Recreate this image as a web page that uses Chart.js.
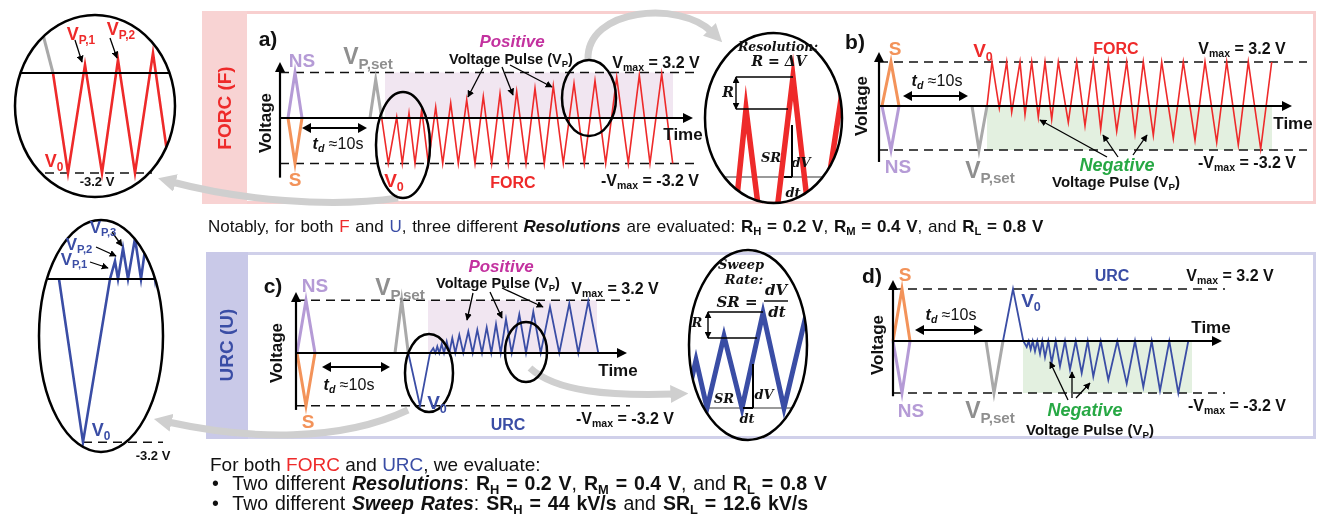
<!DOCTYPE html>
<html>
<head>
<meta charset="utf-8">
<script src="https://cdn.jsdelivr.net/npm/chart.js@4.4.0/dist/chart.umd.min.js"></script>
<style>
body { margin: 0; width: 1321px; height: 519px; position: relative; background: #fff; overflow: hidden; font-family: "Liberation Sans", Arial, sans-serif; }
.box { position: absolute; box-sizing: border-box; }
canvas { position: absolute; z-index: 1; }
svg { position: absolute; left: 0; top: 0; z-index: 2; }
.lb { position: absolute; z-index: 3; transform: translate(-50%, -50%); white-space: nowrap; font-weight: bold; line-height: 1; }
.lb sub, .txt sub { font-size: 0.66em; vertical-align: baseline; position: relative; top: 0.3em; }
.rot { transform: translate(-50%, -50%) rotate(-90deg); }
.m { font-family: "DejaVu Serif", "Liberation Serif", serif; font-style: italic; font-weight: bold; }
.txt { position: absolute; z-index: 3; white-space: nowrap; line-height: 1; color: #111; transform: translateY(-50%); }
</style>
</head>
<body>
<div class="box" style="left:202px;top:11px;width:1114px;height:193px;border:3px solid #f8cfcf;"></div>
<div class="box" style="left:202px;top:11px;width:45px;height:193px;background:#f8d3d3;"></div>
<div class="box" style="left:206px;top:252px;width:1110px;height:187px;border:3px solid #d0d0ea;"></div>
<div class="box" style="left:206px;top:252px;width:42px;height:187px;background:#c9c9e8;"></div>
<script>
// ---- data (time in arbitrary units, voltage in V) ----
const vMax = 3.2;
const upV = [0, 3.2, 0];
const downV = [0, -3.2, 0];

// a) FORC, positive pulses
const aPreT = [8, 15, 22];
const aSetT = [90, 95.7, 101.7];
const aSetV = [0, 2.7, 0];
const aForcT = [101.7, 108.3, 116.7, 122.3, 129, 135, 141.7, 148.3, 155.7, 162.7, 170.7, 178.3, 186.7, 195, 203.3, 211.7,
  220, 228.3, 236.7, 246, 255, 264.3, 273.3, 283.3, 294, 304.3, 315, 325.7, 336.7, 348.3, 359.3, 370, 381.7, 392.7];
const aForcV = [0, -3.2, 0.07, -3.2, 0.35, -3.2, 0.58, -3.2, 0.77, -3.2, 1.05, -3.2, 1.28, -3.2, 1.51, -3.2,
  1.7, -3.2, 1.86, -3.2, 2.09, -3.2, 2.26, -3.2, 2.44, -3.2, 2.63, -3.2, 2.86, -3.2, 3.0, -3.2, 3.1, -3.2];

// b) FORC, negative pulses
const bPreT = [3, 12, 20];
const bSetT = [93, 100, 108];
const bForcT = [108, 113, 120.3, 127.7, 132.7, 141, 146, 152.7, 159.3, 166, 172.7, 179.3, 189.3, 197.7, 206, 214.3,
  221.7, 229.3, 237.7, 247.7, 256, 264.3, 274.3, 282.7, 294.3, 304.3, 316, 326, 337.7, 347.7, 359.3, 369.3, 381.7, 392.7];
const bForcV = [0, 3.2, -0.16, 3.2, -0.44, 3.2, -0.63, 3.2, -0.81, 3.2, -0.97, 3.2, -1.2, 3.2, -1.44, 3.2,
  -1.67, 3.2, -1.83, 3.2, -2.0, 3.2, -2.13, 3.2, -2.36, 3.2, -2.48, 3.2, -2.64, 3.2, -2.83, 3.2, -3.13, 3.2];

// c) URC, positive pulses
const cPreT = [1, 10, 19];
const cSetT = [99, 105.7, 112.3];
const cUrcT = [112.3, 124, 134, 137.3, 139.3, 141.3, 143.3, 145.7, 148, 150.7, 153.3, 156.3, 159.3, 163.3, 167.3, 172.3, 176.7,
  181.3, 186, 190.7, 195.3, 200, 204.7, 210, 215.7, 223.3, 230, 237.3, 244.7, 254, 263.3, 273.3, 282.3, 292.3, 302.3];
const cUrcV = [0, -3.2, 0, 0.3, 0, 0.4, 0, 0.54, 0, 0.7, 0, 0.9, 0, 1.1, 0, 1.3, 0,
  1.4, 0, 1.55, 0, 1.75, 0, 2.05, 0, 2.35, 0, 2.5, 0, 2.8, 0, 3.0, 0, 3.15, 0];

// d) URC, negative pulses
const dPreT = [0, 9, 17];
const dSetT = [93, 101, 110];
const dUrcT = [110, 120, 130.3, 133.7, 135.7, 137.7, 139.7, 142, 144.3, 147, 149.3, 152, 155.3, 158.7, 162.7, 167, 172,
  177, 182.7, 188.7, 194.7, 200.3, 207.7, 215.3, 224.3, 233.7, 242, 250.3, 258.7, 267, 276.3, 285.3, 295.3];
const dUrcV = [0, 3.2, 0, -0.37, 0, -0.52, 0, -0.64, 0, -0.79, 0, -1.0, 0, -1.33, 0, -1.55, 0,
  -1.76, 0, -1.97, 0, -2.19, 0, -2.4, 0, -2.62, 0, -2.83, 0, -3.05, 0, -3.2, 0];

// zoomed details
const zoomSetT = [40, 53];
const zoomSetV = [1.6, 0];
const zoomForcT = [53, 68, 85, 102, 118, 135, 153, 170];
const zoomForcV = [0, -3.2, 0.26, -3.2, 0.42, -3.2, 0.64, -3.2];
const zoomUrcT = [59, 83, 110, 115, 118, 123, 128, 135, 141, 148, 155, 163];
const zoomUrcV = [0, -3.2, 0, 0.35, 0, 0.6, 0, 0.8, 0, 1.0, 0, 1.2];
const resT = [728, 746, 768, 793, 815, 850];
const resV = [-108, 68, -108, 100, -93, 137];
const sweepT = [685, 696, 707, 724, 742, 763, 784, 812];
const sweepV = [0, 48, 0, 72, 0, 95, 0, 118];

// ---- colours ----
const red = '#ee2a2a', blue = '#3a4da5', purple = '#b59bd6', orange = '#f3935a', gray = '#a9a9a9';
const magenta = '#c3329f', green = '#27a844';
const pinkShade = '#f1e6f1', greenShade = '#e3f0e0';

const pts = (T, V) => T.map((t, i) => ({ x: t, y: V[i] }));
const line = (data, color, w, more) => Object.assign({ data, borderColor: color, borderWidth: w, pointRadius: 0, fill: false, clip: false, order: 1 }, more || {});
const dashed = (t1, t2, v) => line([{ x: t1, y: v }, { x: t2, y: v }], '#111', 1.6, { borderDash: [9, 6], order: 2 });
const shade = (t1, t2, v, color) => ({ data: [{ x: t1, y: v }, { x: t2, y: v }], borderWidth: 0, pointRadius: 0, fill: 'origin', backgroundColor: color, clip: false, order: 9 });

function arrowHead(ctx, x1, y1, x2, y2, len, half) {
  const a = Math.atan2(y2 - y1, x2 - x1), c = Math.cos(a), s = Math.sin(a);
  ctx.beginPath();
  ctx.moveTo(x2, y2);
  ctx.lineTo(x2 - len * c + half * s, y2 - len * s - half * c);
  ctx.lineTo(x2 - len * c - half * s, y2 - len * s + half * c);
  ctx.closePath();
  ctx.fill();
}
function arrowLine(ctx, x1, y1, x2, y2, len, half, both) {
  const a = Math.atan2(y2 - y1, x2 - x1), c = Math.cos(a), s = Math.sin(a);
  ctx.beginPath();
  ctx.moveTo(both ? x1 + len * 0.7 * c : x1, both ? y1 + len * 0.7 * s : y1);
  ctx.lineTo(x2 - len * 0.7 * c, y2 - len * 0.7 * s);
  ctx.stroke();
  arrowHead(ctx, x1, y1, x2, y2, len, half);
  if (both) arrowHead(ctx, x2, y2, x1, y1, len, half);
}

// draws the Voltage / Time axes and the t_d arrow
const axesPlugin = {
  id: 'axes',
  afterDatasetsDraw(chart, args, o) {
    if (!o || o.tEnd === undefined) return;
    const X = v => chart.scales.x.getPixelForValue(v), Y = v => chart.scales.y.getPixelForValue(v);
    const ctx = chart.ctx;
    ctx.save();
    ctx.strokeStyle = '#000'; ctx.fillStyle = '#000'; ctx.lineWidth = 2.2;
    arrowLine(ctx, X(0), Y(o.yBot), X(0), Y(o.yTop), 10, 5);
    arrowLine(ctx, X(0), Y(0), X(o.tEnd), Y(0), 10, 5);
    ctx.lineWidth = 2;
    arrowLine(ctx, X(o.tdA), Y(o.tdV), X(o.tdB), Y(o.tdV), 9, 5, true);
    ctx.restore();
  }
};

// clips the zoomed waveforms to their circle
const clipPlugin = {
  id: 'ellClip',
  beforeDatasetDraw(chart, args, o) {
    if (!o || !o.rx || !chart.data.datasets[args.index].inEllipse) return;
    const ctx = chart.ctx;
    ctx.save();
    ctx.beginPath();
    ctx.ellipse(o.cx, o.cy, o.rx, o.ry, 0, 0, Math.PI * 2);
    ctx.clip();
  },
  afterDatasetDraw(chart, args, o) {
    if (!o || !o.rx || !chart.data.datasets[args.index].inEllipse) return;
    chart.ctx.restore();
  }
};

function makeChart(g, datasets, axes, ell) {
  const cv = document.createElement('canvas');
  cv.width = g.w; cv.height = g.h;
  cv.style.left = g.l + 'px'; cv.style.top = g.t + 'px';
  cv.style.width = g.w + 'px'; cv.style.height = g.h + 'px';
  document.body.appendChild(cv);
  const clip = ell ? { cx: ell[0] - g.l, cy: ell[1] - g.t, rx: ell[2], ry: ell[3] } : false;
  return new Chart(cv, {
    type: 'line',
    data: { datasets },
    options: {
      responsive: false,
      maintainAspectRatio: false,
      animation: false,
      events: [],
      layout: { padding: 0 },
      elements: { point: { radius: 0 }, line: { tension: 0, borderJoinStyle: 'miter' } },
      scales: {
        x: { type: 'linear', display: false, min: (g.l - g.ox) / g.kx, max: (g.l + g.w - g.ox) / g.kx },
        y: { type: 'linear', display: false, min: (g.oy - g.t - g.h) / g.ky, max: (g.oy - g.t) / g.ky }
      },
      plugins: { legend: { display: false }, tooltip: { enabled: false }, axes: axes || false, ellClip: clip }
    },
    plugins: [axesPlugin, clipPlugin]
  });
}

// a) FORC positive
makeChart({ l: 250, t: 20, w: 460, h: 180, ox: 280, oy: 118, kx: 1, ky: 14.2 }, [
  line(pts(aForcT, aForcV), red, 1.6),
  line(pts(aSetT, aSetV), gray, 3),
  line(pts(aPreT, upV), purple, 3),
  line(pts(aPreT, downV), orange, 3),
  dashed(0, 415, vMax), dashed(0, 415, -vMax),
  shade(105, 393, vMax, pinkShade)
], { yTop: 3.95, yBot: -4.2, tEnd: 413, tdA: 22, tdB: 87, tdV: -0.7 });

// b) FORC negative
makeChart({ l: 850, t: 30, w: 465, h: 150, ox: 879, oy: 106, kx: 1, ky: 13.75 }, [
  line(pts(bForcT, bForcV), red, 1.6),
  line(pts(bSetT, downV), gray, 3),
  line(pts(bPreT, upV), orange, 3),
  line(pts(bPreT, downV), purple, 3),
  dashed(0, 428, vMax), dashed(0, 428, -vMax),
  shade(108, 393, -vMax, greenShade)
], { yTop: 3.93, yBot: -4.07, tEnd: 413, tdA: 24, tdB: 89, tdV: 0.73 });

// c) URC positive
makeChart({ l: 265, t: 270, w: 400, h: 160, ox: 296, oy: 353, kx: 1, ky: 16.5 }, [
  line(pts(cUrcT, cUrcV), blue, 1.8),
  line(pts(cSetT, upV), gray, 3),
  line(pts(cPreT, upV), purple, 3),
  line(pts(cPreT, downV), orange, 3),
  dashed(0, 334, vMax), dashed(0, 334, -vMax),
  shade(132, 301, vMax, pinkShade)
], { yTop: 3.7, yBot: -3.45, tEnd: 331, tdA: 26, tdB: 94, tdV: -0.85 });

// d) URC negative
makeChart({ l: 870, t: 262, w: 400, h: 160, ox: 893, oy: 341, kx: 1, ky: 16.25 }, [
  line(pts(dUrcT, dUrcV), blue, 1.8),
  line(pts(dSetT, downV), gray, 3),
  line(pts(dPreT, upV), orange, 3),
  line(pts(dPreT, downV), purple, 3),
  dashed(0, 332, vMax), dashed(0, 332, -vMax),
  shade(130, 299, -vMax, greenShade)
], { yTop: 3.75, yBot: -3.4, tEnd: 329, tdA: 22, tdB: 90, tdV: 0.68 });

// zoom of the FORC start (left circle)
makeChart({ l: 10, t: 10, w: 190, h: 195, ox: 0, oy: 73, kx: 1, ky: 31.25 }, [
  line(pts(zoomForcT, zoomForcV), red, 2.6, { inEllipse: true }),
  line(pts(zoomSetT, zoomSetV), gray, 3, { inEllipse: true }),
  line([{ x: 0, y: 0 }, { x: 200, y: 0 }], '#000', 2.2, { inEllipse: true, order: 0 }),
  dashed(45, 152, -vMax)
], null, [95, 106, 80, 91]);

// zoom of the URC start (left ellipse)
makeChart({ l: 30, t: 210, w: 150, h: 250, ox: 0, oy: 279, kx: 1, ky: 51 }, [
  line(pts(zoomUrcT, zoomUrcV), blue, 2.6, { inEllipse: true }),
  line([{ x: 0, y: 0 }, { x: 200, y: 0 }], '#000', 2.2, { inEllipse: true, order: 0 }),
  dashed(83, 163, -vMax)
], null, [101, 336, 62, 116]);

// resolution detail
makeChart({ l: 700, t: 28, w: 150, h: 180, ox: 0, oy: 177, kx: 1, ky: 1 }, [
  line(pts(resT, resV), red, 5.5, { inEllipse: true }),
  line([{ x: 690, y: 0 }, { x: 860, y: 0 }], '#9a9a9a', 2, { inEllipse: true, order: 3 })
], null, [773.5, 118, 68.5, 85]);

// sweep rate detail
makeChart({ l: 684, t: 245, w: 130, h: 200, ox: 0, oy: 408, kx: 1, ky: 1 }, [
  line(pts(sweepT, sweepV), blue, 5, { inEllipse: true }),
  line([{ x: 680, y: 0 }, { x: 820, y: 0 }], '#9a9a9a', 2, { inEllipse: true, order: 3 })
], null, [748, 345, 59, 95]);

// ---- overlay: circles, arrows ----
const ellipses = [[95, 106, 80, 91], [101, 336, 62, 116], [773.5, 118, 68.5, 85], [748, 345, 59, 95],
  [403, 145, 27, 53], [589, 98, 27, 38], [429, 373, 24, 39], [526, 352, 21, 30]];
const pointers = [[483, 68, 468, 97], [502, 67, 513, 95], [510, 65, 552, 87],
  [1107, 157, 1040, 120], [1118, 157, 1103, 135], [1133, 155, 1147, 135],
  [473, 293, 467, 320], [490, 292, 502, 318], [502, 288, 543, 307],
  [1068, 400, 1050, 362], [1072, 398, 1072, 372], [1076, 398, 1090, 383],
  [75, 40, 82, 62], [110, 38, 117, 58],
  [90, 262, 108, 268], [96, 247, 116, 256], [112, 232, 122, 246]];
const arcs = ['M 588 60 C 586 8, 680 0, 712 32', 'M 398 198 C 330 208, 240 200, 172 182',
  'M 408 410 C 340 442, 250 440, 168 422', 'M 530 368 C 556 392, 610 396, 674 394'];
let s = '<svg width="1321" height="519" xmlns="http://www.w3.org/2000/svg"><defs>' +
  '<marker id="ba" viewBox="0 0 10 10" refX="9" refY="5" markerWidth="7" markerHeight="7" markerUnits="userSpaceOnUse" orient="auto-start-reverse"><path d="M0,0 L10,5 L0,10 z" fill="#000"/></marker>' +
  '<marker id="ga" viewBox="0 0 10 10" refX="2" refY="5" markerWidth="18" markerHeight="18" markerUnits="userSpaceOnUse" orient="auto"><path d="M0,0 L10,5 L0,10 z" fill="#cfcfcf"/></marker></defs>';
arcs.forEach(d => { s += `<path d="${d}" fill="none" stroke="#cfcfcf" stroke-width="7" marker-end="url(#ga)"/>`; });
ellipses.forEach(e => { s += `<ellipse cx="${e[0]}" cy="${e[1]}" rx="${e[2]}" ry="${e[3]}" fill="none" stroke="#000" stroke-width="2.5"/>`; });
pointers.forEach(p => { s += `<line x1="${p[0]}" y1="${p[1]}" x2="${p[2]}" y2="${p[3]}" stroke="#000" stroke-width="1.3" marker-end="url(#ba)"/>`; });
// R brackets, dV/dt marks
s += '<g stroke="#000" stroke-width="1.4" fill="none">' +
  '<line x1="736" y1="77" x2="736" y2="109" marker-start="url(#ba)" marker-end="url(#ba)"/>' +
  '<line x1="736" y1="77" x2="793" y2="77"/><line x1="736" y1="109" x2="788" y2="109"/>' +
  '<line x1="792" y1="125" x2="792" y2="177" stroke-width="2"/><line x1="784" y1="177" x2="792" y2="177" stroke-width="2"/>' +
  '<line x1="708" y1="312" x2="708" y2="338" marker-start="url(#ba)" marker-end="url(#ba)"/>' +
  '<line x1="708" y1="312" x2="763" y2="312"/><line x1="708" y1="338" x2="757" y2="338"/>' +
  '<line x1="753" y1="364" x2="753" y2="408" stroke-width="2"/><line x1="743" y1="408" x2="753" y2="408" stroke-width="2"/>' +
  '<line x1="764" y1="301" x2="788" y2="301"/></g></svg>';
document.body.insertAdjacentHTML('beforeend', s);

// ---- text ----
function lb(html, x, y, size, color, cls) {
  const d = document.createElement('div');
  d.className = 'lb' + (cls ? ' ' + cls : '');
  d.innerHTML = html;
  d.style.left = x + 'px'; d.style.top = y + 'px';
  d.style.fontSize = size + 'px'; d.style.color = color || '#111';
  document.body.appendChild(d);
}
function txt(html, x, y, size, ws) {
  const d = document.createElement('div');
  d.className = 'txt';
  d.innerHTML = html;
  d.style.left = x + 'px'; d.style.top = y + 'px'; d.style.fontSize = size + 'px';
  if (ws) d.style.wordSpacing = ws + 'px';
  document.body.appendChild(d);
}
const vp = 'Voltage Pulse (V<sub>P</sub>)';
const vset = 'V<sub>P,set</sub>';
const td = '<i>t<sub>d</sub></i> <span style="font-weight:normal">&asymp;10s</span>';
const vmaxP = 'V<sub>max</sub> = 3.2 V', vmaxN = '-V<sub>max</sub> = -3.2 V';

lb('FORC (F)', 224, 108, 19, red, 'rot');
lb('URC (U)', 226, 345, 19, blue, 'rot');

// a)
lb('a)', 268, 38, 21); lb('NS', 302, 60, 19, purple); lb('S', 295, 179, 19, orange);
lb(vset, 368, 56, 23, '#8f8f8f'); lb('<i>Positive</i>', 512, 41, 17, magenta); lb(vp, 511, 59, 14.5);
lb(vmaxP, 656, 63, 16); lb('Time', 683, 134, 17); lb('Voltage', 265, 123, 17, '#111', 'rot');
lb(td, 338, 144, 16); lb('V<sub>0</sub>', 394, 180, 19, red); lb('FORC', 513, 183, 16, red); lb(vmaxN, 650, 181, 16);
// b)
lb('b)', 855, 41, 21); lb('S', 895, 48, 19, orange); lb('NS', 898, 166, 19, purple);
lb(vset, 990, 170, 23, '#8f8f8f'); lb('V<sub>0</sub>', 983, 50, 19, red); lb('FORC', 1116, 49, 16, red);
lb(vmaxP, 1242, 49, 16); lb('Time', 1293, 123, 17); lb('Voltage', 861, 106, 17, '#111', 'rot');
lb(td, 937, 81, 16); lb('<i>Negative</i>', 1117, 165, 18, green); lb(vp, 1116, 181, 15); lb(vmaxN, 1247, 163, 16);
// c)
lb('c)', 273, 285, 21); lb('NS', 315, 285, 19, purple); lb('S', 308, 421, 19, orange);
lb(vset, 400, 287, 23, '#8f8f8f'); lb('<i>Positive</i>', 501, 266, 17, magenta); lb(vp, 498, 283, 14.5);
lb(vmaxP, 615, 289, 16); lb('Time', 618, 370, 17); lb('Voltage', 276, 353, 17, '#111', 'rot');
lb(td, 349, 385, 16); lb('V<sub>0</sub>', 437, 402, 19, blue); lb('URC', 508, 425, 16, blue); lb(vmaxN, 625, 419, 16);
// d)
lb('d)', 872, 275, 21); lb('S', 905, 274, 19, orange); lb('URC', 1112, 276, 16, blue);
lb(vmaxP, 1230, 276, 16); lb('V<sub>0</sub>', 1031, 300, 19, blue); lb('Time', 1211, 327, 17);
lb('Voltage', 877, 345, 17, '#111', 'rot'); lb(td, 951, 315, 16); lb('NS', 911, 410, 19, purple);
lb(vset, 990, 410, 23, '#8f8f8f'); lb('<i>Negative</i>', 1085, 410, 18, green); lb(vp, 1090, 429, 15); lb(vmaxN, 1237, 406, 16);

// zoom circles
lb('V<sub>P,1</sub>', 81, 34, 18, red); lb('V<sub>P,2</sub>', 121, 29, 18, red);
lb('V<sub>0</sub>', 54, 161, 18, red); lb('-3.2 V', 97, 181, 13);
lb('V<sub>P,3</sub>', 103, 227, 17, blue); lb('V<sub>P,2</sub>', 79, 244, 17, blue); lb('V<sub>P,1</sub>', 74, 259, 17, blue);
lb('V<sub>0</sub>', 101, 430, 18, blue); lb('-3.2 V', 153, 455, 13);
lb('Resolution:', 778, 47, 12.5, '#111', 'm'); lb('R = &Delta;V', 779, 61, 14, '#111', 'm');
lb('R', 728, 92, 14, '#111', 'm'); lb('SR', 771, 157, 13, '#111', 'm'); lb('dV', 801, 162, 13, '#111', 'm'); lb('dt', 793, 192, 13, '#111', 'm');
lb('Sweep', 741, 264, 13, '#111', 'm'); lb('Rate:', 744, 279, 13, '#111', 'm'); lb('SR =', 737, 302, 15, '#111', 'm');
lb('dV', 776, 290, 15, '#111', 'm'); lb('dt', 777, 312, 15, '#111', 'm');
lb('R', 697, 322, 13, '#111', 'm'); lb('SR', 724, 398, 13, '#111', 'm'); lb('dV', 764, 394, 13, '#111', 'm'); lb('dt', 747, 418, 13, '#111', 'm');

// notes
txt('Notably, for both <span style="color:' + red + '">F</span> and <span style="color:' + blue + '">U</span>, three different <b><i>Resolutions</i></b> are evaluated: <b>R<sub>H</sub> = 0.2 V</b>, <b>R<sub>M</sub> = 0.4 V</b>, and <b>R<sub>L</sub> = 0.8 V</b>', 208, 226, 17, 1);
txt('For both <span style="color:' + red + '">FORC</span> and <span style="color:' + blue + '">URC</span>, we evaluate:', 210, 464, 19);
txt('&bull;&nbsp; Two different <b><i>Resolutions</i></b>: <b>R<sub>H</sub> = 0.2 V</b>, <b>R<sub>M</sub> = 0.4 V</b>, and <b>R<sub>L</sub> = 0.8 V</b>', 212, 484, 19.5, 1.5);
txt('&bull;&nbsp; Two different <b><i>Sweep Rates</i></b>: <b>SR<sub>H</sub> = 44 kV/s</b> and <b>SR<sub>L</sub> = 12.6 kV/s</b>', 212, 504, 19.5, 1.5);
</script>
</body>
</html>
